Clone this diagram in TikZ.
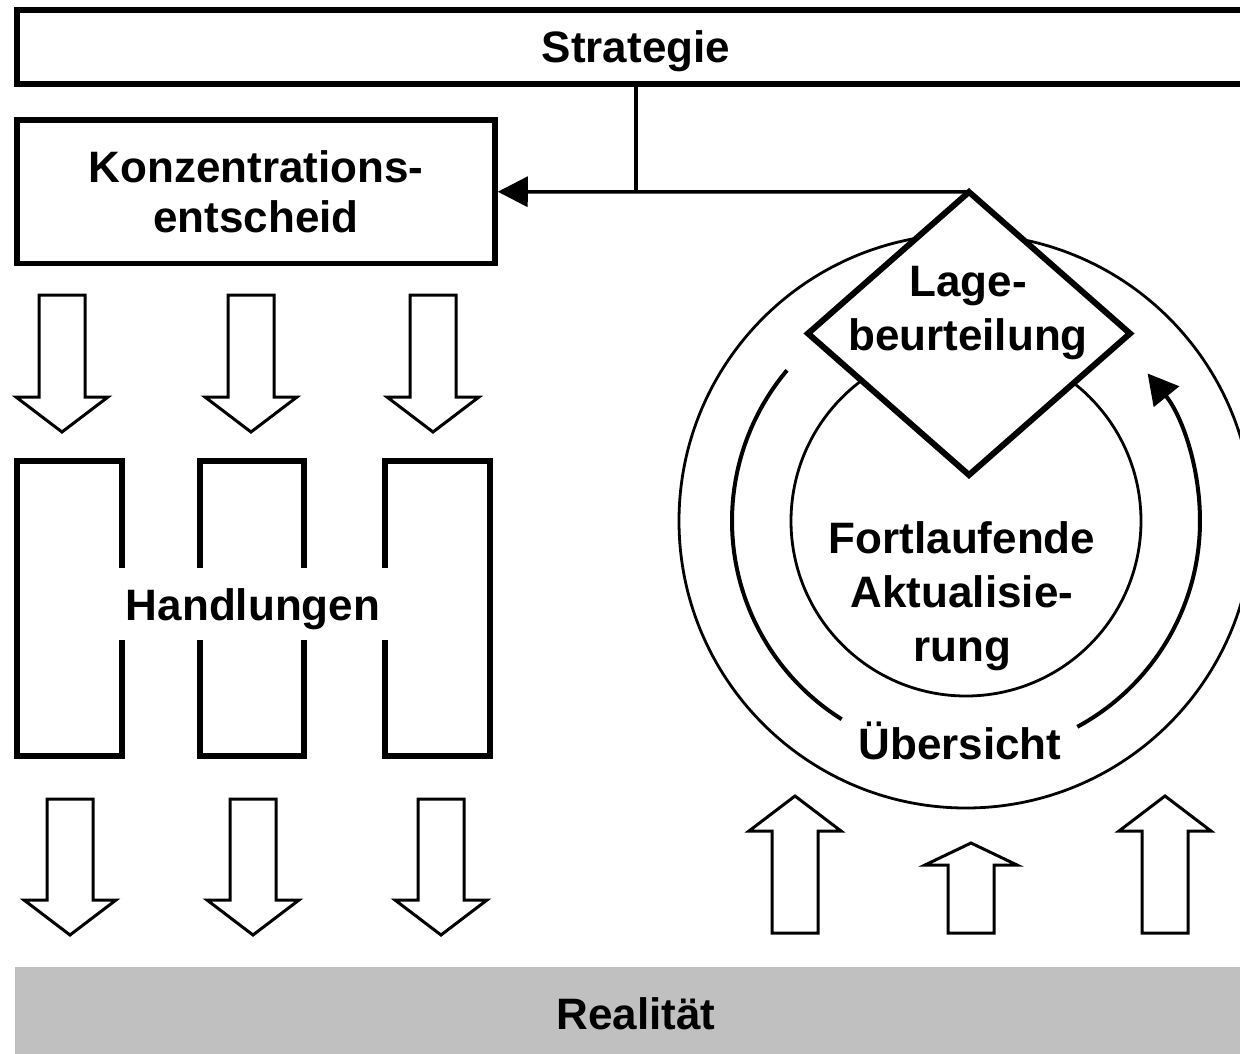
\documentclass[tikz,border=0pt]{standalone}
\usepackage{fontspec}
\setmainfont{Liberation Sans}
\usetikzlibrary{shapes.geometric,arrows.meta}

\definecolor{bandgray}{RGB}{192,192,192}

\tikzset{
    lbl/.style={font=\fontsize{44}{54}\selectfont\bfseries, align=center, inner sep=0pt},
    boxed/.style={draw, line width=5.5pt, inner sep=0pt},
    hollow/.style={draw, line width=3pt, fill=white},
    frame/.style={line width=5.5pt},
}

\begin{document}
\begin{tikzpicture}[x=1pt,y=1pt]
    \useasboundingbox (0,0) rectangle (1240,-1054);

    % Strategie and Konzentrationsentscheid
    \node[boxed, lbl, minimum width=1238pt, minimum height=74pt, text depth=0pt] (strat) at (636,-47) {Strategie};
    \node[boxed, lbl, font=\fontsize{44}{50}\selectfont\bfseries, minimum width=478pt, minimum height=143.5pt] (konz) at (256,-191.75) {Konzentrations-\\entscheid};

    % Circles around the Lagebeurteilung
    \coordinate (mid) at (966,-521);
    \draw[line width=2.8pt] (mid) circle[radius=287pt];
    \draw[line width=2.8pt] (mid) circle[radius=175pt];
    \draw[line width=4pt] ([shift={(139.9:234pt)}]mid) arc[start angle=139.9, end angle=237.9, radius=234pt];
    \draw[line width=4pt, -{Triangle[length=30pt,width=32pt]}] ([shift={(298.4:234pt)}]mid) arc[start angle=298.4, end angle=399.1, radius=234pt];

    \node[diamond, draw, fill=white, line width=6pt, minimum width=322pt, minimum height=283pt, inner sep=0pt, outer sep=0pt] (lage) at (969,-333.5) {};
    \node[lbl] (lagetxt) at (968,-313) {Lage-\\beurteilung};
    \node[lbl] (fortl) at (962,-596) {Fortlaufende\\Aktualisie-\\rung};
    \node[lbl, anchor=base] (ueber) at (960,-759) {Übersicht};

    % Connector
    \coordinate (tee) at (636,-192);
    \draw[line width=3.5pt, -{Triangle[length=30pt,width=30pt]}] (lage.north) -- (konz.east);
    \draw[line width=3.5pt] (strat.south -| tee) -- (tee);

    % Arrows down to the Handlungen
    \foreach \x in {62,251,433}
        \draw[hollow] (\x-23,-295) -- (\x+23,-295) -- (\x+23,-397) -- (\x+46,-397)
            -- (\x,-432) -- (\x-46,-397) -- (\x-23,-397) -- cycle;

    % Handlungen
    \draw[frame] (122,-568) -- (122,-461) -- (17,-461) -- (17,-756) -- (122,-756) -- (122,-640);
    \draw[frame] (200,-568) -- (200,-461) -- (304,-461) -- (304,-568);
    \draw[frame] (200,-640) -- (200,-756) -- (304,-756) -- (304,-640);
    \draw[frame] (385,-568) -- (385,-461) -- (490,-461) -- (490,-756) -- (385,-756) -- (385,-640);
    \node[lbl] (handl) at (253,-609) {Handlungen};

    % Arrows down to the Realitaet
    \foreach \x in {70,253,441}
        \draw[hollow] (\x-23,-799) -- (\x+23,-799) -- (\x+23,-900) -- (\x+46,-900)
            -- (\x,-935) -- (\x-46,-900) -- (\x-23,-900) -- cycle;

    % Arrows up to the Uebersicht
    \foreach \ax/\ay/\by in {795/796/831, 971/843/865, 1165/796/831}
        \draw[hollow] (\ax-23,-933) -- (\ax+23,-933) -- (\ax+23,-\by) -- (\ax+46,-\by)
            -- (\ax,-\ay) -- (\ax-46,-\by) -- (\ax-23,-\by) -- cycle;

    % Realitaet
    \node[lbl, fill=bandgray, minimum width=1242pt, minimum height=94pt] (real) at (636,-1014) {Realität};
\end{tikzpicture}
\end{document}
